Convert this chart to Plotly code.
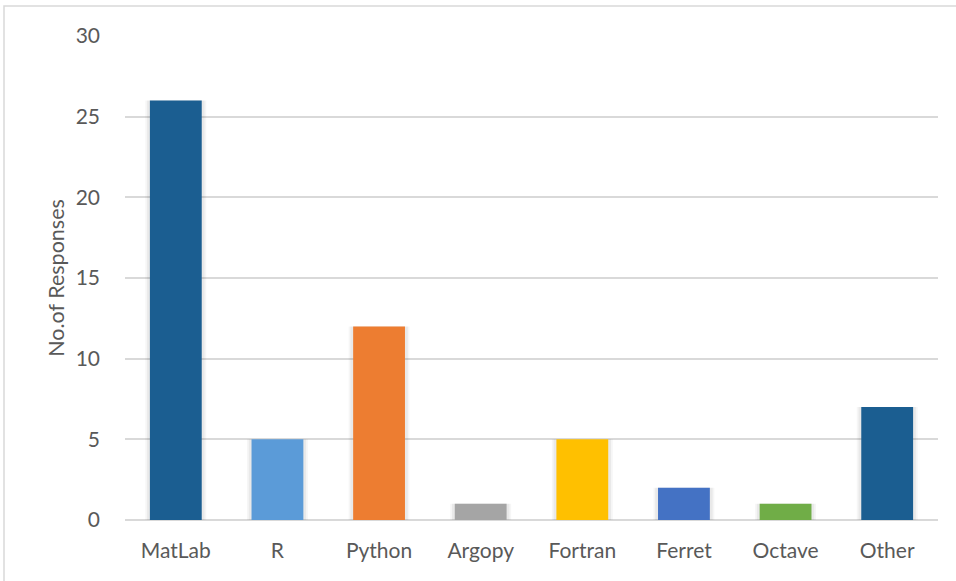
import plotly.graph_objects as go

categories = ["MatLab", "R", "Python", "Argopy", "Fortran", "Ferret", "Octave", "Other"]
responses = [26, 5, 12, 1, 5, 2, 1, 7]
bar_colors = ["#1B5E91", "#5B9BD8", "#ED7D31", "#A5A5A5", "#FFC000", "#4472C4", "#70AD47", "#1B5E91"]
y_ticks = [0, 5, 10, 15, 20, 25, 30]

W, H = 956, 581
L, R, T, B = 125, 18, 36, 61
pw, ph = W - L - R, H - T - B

fig = go.Figure()
# soft shadow halo behind bars
for w, a in [(0.60, 0.035), (0.565, 0.05)]:
    fig.add_trace(go.Bar(
        x=categories, y=responses, width=w,
        marker=dict(color=f"rgba(0,0,0,{a})", line=dict(width=0)),
        hoverinfo="skip",
    ))
fig.add_trace(go.Bar(
    x=categories, y=responses,
    marker=dict(color=bar_colors, line=dict(width=0)),
    width=0.51,
))

def px_x(p):
    return (p - L) / pw

def px_y(p):
    return (H - B - p) / ph

fig.add_shape(type="rect", xref="paper", yref="paper",
              x0=px_x(4), x1=px_x(970), y0=px_y(600), y1=px_y(6),
              line=dict(color="#D9D9D9", width=1.5), layer="below")

fig.update_layout(
    width=W, height=H,
    margin=dict(l=L, r=R, t=T, b=B),
    plot_bgcolor="white", paper_bgcolor="white",
    font=dict(family="Lato", color="#595959", size=20),
    showlegend=False,
    barmode="overlay",
)
fig.update_xaxes(showgrid=False, showline=False, ticks="", ticklabelstandoff=16,
                 tickfont=dict(size=21, color="#595959"))
fig.update_yaxes(range=[0, 30], tickvals=y_ticks, showgrid=True, gridcolor="#D9D9D9",
                 gridwidth=1.5, zeroline=True, zerolinecolor="#D9D9D9", zerolinewidth=1.5,
                 ticks="", ticklabelstandoff=24,
                 tickfont=dict(size=21, color="#595959"),
                 title=dict(text="No.of Responses", font=dict(size=21.5, color="#595959"), standoff=5))

fig.write_html("out.html", config={"displayModeBar": False},
               post_script="document.body.style.margin='0px';")
